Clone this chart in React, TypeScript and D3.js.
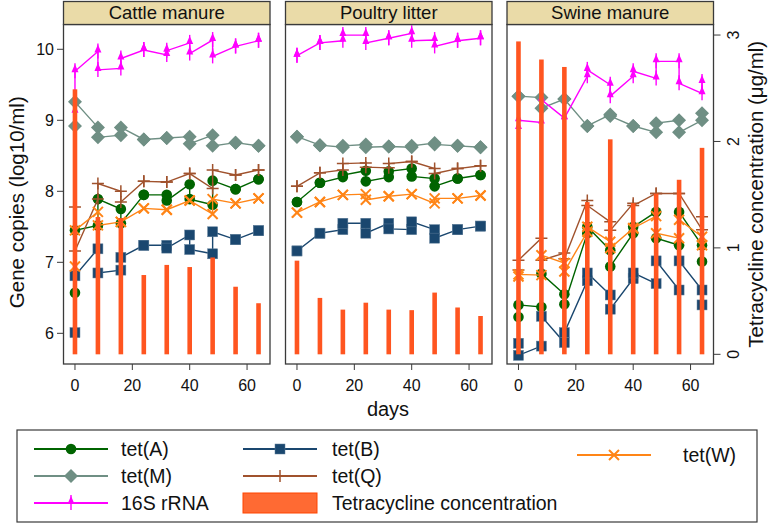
import React from 'react';
import * as d3 from 'd3';

// ---------- data ----------
const days = [0, 8, 16, 24, 32, 40, 48, 56, 64];
const panelNames = ['Cattle manure', 'Poultry litter', 'Swine manure'];
const yTicks = [6, 7, 8, 9, 10];
const y2Ticks = [0, 1, 2, 3];
const xTicks = [0, 20, 40, 60];

// Cattle manure (two replicates per day, log10 copies/ml)
const cattleTetA = [[6.57, 7.45], [7.52, 7.89], [7.75, 7.55], [7.95, 7.95], [7.95, 7.87], [8.10, 7.89], [7.81, 8.15], [8.03, 8.03], [8.17, 8.17]];
const cattleTetB = [[6.01, 6.81], [7.19, 6.85], [6.89, 7.07], [7.24, 7.24], [7.24, 7.20], [7.385, 7.18], [7.12, 7.43], [7.32, 7.32], [7.445, 7.445]];
const cattleTetM = [[8.92, 9.26], [8.90, 8.76], [8.79, 8.90], [8.73, 8.73], [8.75, 8.75], [8.77, 8.67], [8.79, 8.64], [8.685, 8.685], [8.64, 8.64]];
const cattleTetQ = [[7.78, 7.16], [7.89, 8.11], [8.00, 7.85], [8.14, 8.14], [8.13, 8.13], [8.25, 8.25], [8.04, 8.30], [8.23, 8.23], [8.30, 8.30]];
const cattleTetW = [[6.94, 7.45], [7.71, 7.52], [7.57, 7.57], [7.76, 7.76], [7.74, 7.74], [7.87, 7.87], [7.68, 7.89], [7.83, 7.83], [7.90, 7.90]];
const cattle16S = [[9.12, 9.69], [9.97, 9.71], [9.73, 9.87], [9.99, 9.99], [9.92, 9.98], [10.09, 9.94], [10.13, 9.90], [10.04, 10.04], [10.12, 10.12]];
const cattleTc = [2.49, 1.29, 1.28, 0.745, 0.84, 0.82, 0.91, 0.635, 0.48];

// Poultry litter
const poultryTetA = [[7.85, 7.85], [8.12, 8.12], [8.20, 8.23], [8.29, 8.14], [8.20, 8.28], [8.32, 8.21], [8.18, 8.07], [8.18, 8.18], [8.23, 8.23]];
const poultryTetB = [[7.16, 7.16], [7.41, 7.41], [7.46, 7.55], [7.55, 7.41], [7.55, 7.47], [7.46, 7.57], [7.46, 7.34], [7.46, 7.46], [7.51, 7.51]];
const poultryTetM = [[8.77, 8.77], [8.65, 8.65], [8.62, 8.64], [8.66, 8.62], [8.63, 8.63], [8.62, 8.64], [8.68, 8.66], [8.64, 8.64], [8.62, 8.62]];
const poultryTetQ = [[8.07, 8.07], [8.26, 8.26], [8.30, 8.39], [8.40, 8.34], [8.33, 8.39], [8.42, 8.42], [8.32, 8.25], [8.32, 8.32], [8.36, 8.36]];
const poultryTetW = [[7.70, 7.70], [7.85, 7.85], [7.95, 7.95], [7.96, 7.88], [7.93, 7.93], [7.96, 7.96], [7.83, 7.90], [7.90, 7.90], [7.94, 7.94]];
const poultry16S = [[9.91, 9.91], [10.09, 10.09], [10.12, 10.20], [10.20, 10.09], [10.155, 10.155], [10.225, 10.12], [10.13, 10.04], [10.12, 10.12], [10.155, 10.155]];
const poultryTc = [0.88, 0.53, 0.42, 0.485, 0.42, 0.415, 0.58, 0.44, 0.36];

// Swine manure
const swineTetA = [[6.23, 6.40], [6.37, 6.84], [6.55, 6.41], [7.41, 7.50], [7.17, 6.94], [7.41, 7.50], [7.71, 7.34], [7.24, 7.71], [7.24, 7.01]];
const swineTetB = [[5.86, 5.69], [5.82, 6.24], [5.87, 6.01], [6.74, 6.85], [6.54, 6.34], [6.77, 6.85], [6.70, 7.02], [6.61, 7.02], [6.61, 6.40]];
const swineTetM = [[9.34, 9.34], [9.32, 9.17], [9.30, 9.30], [8.92, 8.92], [9.08, 9.06], [8.92, 8.92], [8.83, 8.96], [9.00, 8.83], [9.00, 9.10]];
const swineTetQ = [[6.89, 7.03], [7.34, 7.03], [7.13, 7.05], [7.87, 7.80], [7.57, 7.45], [7.83, 7.80], [7.97, 7.97], [7.97, 7.97], [7.46, 7.64]];
const swineTetW = [[6.80, 6.83], [6.82, 7.10], [6.99, 6.87], [7.43, 7.50], [7.29, 7.20], [7.48, 7.48], [7.65, 7.41], [7.34, 7.60], [7.36, 7.24]];
const swine16S = [[8.89, 9.00], [8.97, 9.29], [9.03, 9.03], [9.62, 9.71], [9.50, 9.34], [9.62, 9.69], [9.59, 9.83], [9.83, 9.52], [9.38, 9.54]];
const swineTc = [2.94, 2.77, 2.70, 1.43, 2.02, 1.42, 1.51, 1.64, 1.94];

// ---------- styling ----------
const FONT = '"Liberation Sans", Arial, Helvetica, sans-serif';
const C = {
  A: '#006400',
  B: '#1a476f',
  M: '#6f8f84',
  Q: '#a0522d',
  W: '#ff8517',
  S: '#ff00ff',
  bar: '#ff5520',
  header: '#eadba8',
  frame: '#3a3a3a',
};

type Kind = 'circle' | 'square' | 'diamond' | 'plus' | 'x' | 'spike';

const seriesDefs: { key: string; kind: Kind; color: string }[] = [
  { key: 'A', kind: 'circle', color: C.A },
  { key: 'B', kind: 'square', color: C.B },
  { key: 'M', kind: 'diamond', color: C.M },
  { key: 'Q', kind: 'plus', color: C.Q },
  { key: 'W', kind: 'x', color: C.W },
  { key: 'S', kind: 'spike', color: C.S },
];

const panels = [
  { A: cattleTetA, B: cattleTetB, M: cattleTetM, Q: cattleTetQ, W: cattleTetW, S: cattle16S, Tc: cattleTc },
  { A: poultryTetA, B: poultryTetB, M: poultryTetM, Q: poultryTetQ, W: poultryTetW, S: poultry16S, Tc: poultryTc },
  { A: swineTetA, B: swineTetB, M: swineTetM, Q: swineTetQ, W: swineTetW, S: swine16S, Tc: swineTc },
];

// ---------- layout ----------
const panelX = [63.5, 285.5, 507];
const panelW = 206.5;
const plotTop = 24.5;
const plotBottom = 364;
const headerTop = 1.5;

const y = d3.scaleLinear().domain([5.568, 10.349]).range([plotBottom, plotTop]);
const y2 = d3.scaleLinear().domain([-0.091, 3.099]).range([plotBottom, plotTop]);

function Marker({ kind, cx, cy, color }: { kind: Kind; cx: number; cy: number; color: string }) {
  switch (kind) {
    case 'circle':
      return <circle cx={cx} cy={cy} r={5.3} fill={color} />;
    case 'square':
      return <rect x={cx - 5} y={cy - 5} width={10} height={10} fill={color} stroke="#5d7c98" strokeWidth={0.5} />;
    case 'diamond':
      return <path d={`M${cx},${cy - 7}L${cx + 7},${cy}L${cx},${cy + 7}L${cx - 7},${cy}Z`} fill={color} />;
    case 'plus':
      return <path d={`M${cx - 6},${cy}H${cx + 6}M${cx},${cy - 6}V${cy + 6}`} stroke={color} strokeWidth={1.5} fill="none" />;
    case 'x':
      return <path d={`M${cx - 5},${cy - 5}L${cx + 5},${cy + 5}M${cx - 5},${cy + 5}L${cx + 5},${cy - 5}`} stroke={color} strokeWidth={2} fill="none" />;
    case 'spike':
      return (
        <g>
          <path d={`M${cx},${cy - 8}V${cy + 7}`} stroke={color} strokeWidth={1.4} />
          <path d={`M${cx - 3.5},${cy + 1}L${cx + 3.5},${cy + 1}L${cx},${cy - 7}Z`} fill={color} />
        </g>
      );
  }
  return null;
}

function Panel({ idx }: { idx: number }) {
  const x0 = panelX[idx];
  const x = d3.scaleLinear().domain([-4, 68]).range([x0, x0 + panelW]);
  const data: any = panels[idx];
  const line = d3.line<{ d: number; v: number }>().x((p) => x(p.d)).y((p) => y(p.v));
  return (
    <g>
      <rect x={x0} y={plotTop} width={panelW} height={plotBottom - plotTop} fill="#fff" />
      {seriesDefs.map((s) => {
        const arr: number[][] = data[s.key];
        const pts: { d: number; v: number }[] = [];
        arr.forEach((reps, i) => reps.forEach((v) => pts.push({ d: days[i], v })));
        return (
          <g key={s.key}>
            <path d={line(pts) || ''} fill="none" stroke={s.color} strokeWidth={1.4} />
            {pts.map((p, j) => (
              <Marker key={j} kind={s.kind} cx={x(p.d)} cy={y(p.v)} color={s.color} />
            ))}
          </g>
        );
      })}
      {(data.Tc as number[]).map((v, i) => (
        <rect key={i} x={x(days[i]) - 2.3} y={y2(v)} width={4.6} height={y2(0) - y2(v)} fill={C.bar} />
      ))}
      <rect x={x0} y={plotTop} width={panelW} height={plotBottom - plotTop} fill="none" stroke={C.frame} strokeWidth={1.3} />
      <rect x={x0} y={headerTop} width={panelW} height={plotTop - headerTop} fill={C.header} stroke={C.frame} strokeWidth={1.3} />
      <text x={x0 + panelW / 2} y={18.5} textAnchor="middle" fontSize={18.5} fontFamily={FONT} fill="#111">
        {panelNames[idx]}
      </text>
      {xTicks.map((t) => (
        <g key={t}>
          <line x1={x(t)} x2={x(t)} y1={plotBottom} y2={plotBottom + 6} stroke={C.frame} strokeWidth={1} />
          <text x={x(t)} y={391} textAnchor="middle" fontSize={16} fontFamily={FONT} fill="#111">
            {t}
          </text>
        </g>
      ))}
    </g>
  );
}

function LegendKey({ kind, color, x1, x2, cy }: { kind: Kind; color: string; x1: number; x2: number; cy: number }) {
  return (
    <g>
      <line x1={x1} x2={x2} y1={cy} y2={cy} stroke={color} strokeWidth={2} />
      <Marker kind={kind} cx={(x1 + x2) / 2} cy={cy} color={color} />
    </g>
  );
}

export default function App() {
  const rows = [449, 476, 503];
  const txt = { fontSize: 19.5, fontFamily: FONT, fill: '#111' } as const;
  return (
    <svg width={770} height={525} style={{ position: 'absolute', left: 0, top: 0, background: '#fff' }}>
      <rect x={0} y={0} width={770} height={525} fill="#fff" />
      {[0, 1, 2].map((i) => (
        <Panel key={i} idx={i} />
      ))}
      {/* left axis */}
      {yTicks.map((t) => (
        <g key={t}>
          <line x1={57} x2={panelX[0]} y1={y(t)} y2={y(t)} stroke={C.frame} strokeWidth={1} />
          <text x={54} y={y(t)} dy="0.35em" textAnchor="end" fontSize={16} fontFamily={FONT} fill="#111">
            {t}
          </text>
        </g>
      ))}
      <text transform={`translate(17,${(plotTop + plotBottom) / 2 + 8}) rotate(-90)`} dy="0.35em" textAnchor="middle" fontSize={20.5} fontFamily={FONT} fill="#111">
        Gene copies (log10/ml)
      </text>
      {/* right axis */}
      {y2Ticks.map((t) => (
        <g key={t}>
          <line x1={panelX[2] + panelW} x2={panelX[2] + panelW + 7} y1={y2(t)} y2={y2(t)} stroke={C.frame} strokeWidth={1} />
          <text transform={`translate(733,${y2(t)}) rotate(-90)`} dy="0.35em" textAnchor="middle" fontSize={16} fontFamily={FONT} fill="#111">
            {t}
          </text>
        </g>
      ))}
      <text transform={`translate(756,${(plotTop + plotBottom) / 2}) rotate(-90)`} dy="0.35em" textAnchor="middle" fontSize={20.5} fontFamily={FONT} fill="#111">
        Tetracycline concentration (μg/ml)
      </text>
      <text x={388} y={416} textAnchor="middle" fontSize={20} fontFamily={FONT} fill="#111">
        days
      </text>
      {/* legend */}
      <rect x={17} y={430} width={740} height={92} fill="#fff" stroke={C.frame} strokeWidth={1.2} />
      <LegendKey kind="circle" color={C.A} x1={34} x2={108} cy={rows[0]} />
      <text x={121} y={rows[0]} dy="0.35em" {...txt}>tet(A)</text>
      <LegendKey kind="diamond" color={C.M} x1={34} x2={108} cy={rows[1]} />
      <text x={121} y={rows[1]} dy="0.35em" {...txt}>tet(M)</text>
      <LegendKey kind="spike" color={C.S} x1={34} x2={108} cy={rows[2]} />
      <text x={121} y={rows[2]} dy="0.35em" {...txt}>16S rRNA</text>
      <LegendKey kind="square" color={C.B} x1={243} x2={317} cy={rows[0]} />
      <text x={332} y={rows[0]} dy="0.35em" {...txt}>tet(B)</text>
      <LegendKey kind="plus" color={C.Q} x1={243} x2={317} cy={rows[1]} />
      <text x={332} y={rows[1]} dy="0.35em" {...txt}>tet(Q)</text>
      <rect x={243} y={rows[2] - 10} width={74} height={20} fill="#ff6a33" stroke="#ff4500" strokeWidth={1} />
      <text x={332} y={rows[2]} dy="0.35em" {...txt}>Tetracycline concentration</text>
      <LegendKey kind="x" color={C.W} x1={577} x2={651} cy={455} />
      <text x={683} y={455} dy="0.35em" {...txt}>tet(W)</text>
    </svg>
  );
}
